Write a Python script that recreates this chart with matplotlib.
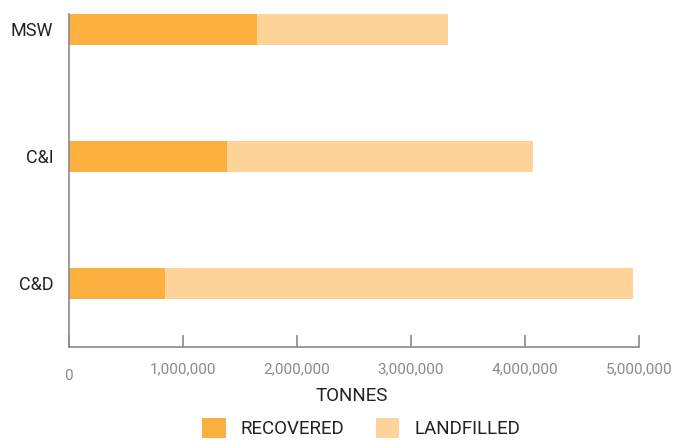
import matplotlib.pyplot as plt
import matplotlib.transforms as mtransforms
from matplotlib.patches import Patch
from matplotlib.ticker import FuncFormatter

plt.rcParams['font.family'] = ['Roboto', 'DejaVu Sans']

streams = ['MSW', 'C&I', 'C&D']
recovered = [1650000, 1390000, 850000]
landfilled = [1680000, 2680000, 4100000]
xticks = [0, 1000000, 2000000, 3000000, 4000000, 5000000]

col_rec = '#FBB040'
col_land = '#FED49A'
axis_grey = '#8a8a8a'

fig = plt.figure(figsize=(6.83, 4.40), dpi=100)
ax = fig.add_axes([0.1003, 0.2114, 0.8353, 0.7568])

pos = range(len(streams))
ax.barh(pos, recovered, height=0.244, color=col_rec, linewidth=0)
ax.barh(pos, landfilled, left=recovered, height=0.244, color=col_land, linewidth=0)

ax.set_xlim(0, 5000000)
ax.set_ylim(2.5, -0.122)
ax.set_yticks(list(pos))
ax.set_yticklabels(streams, fontsize=13, color='#222222')
ax.tick_params(axis='y', length=0, pad=11)

ax.set_xticks(xticks)
ax.xaxis.set_major_formatter(FuncFormatter(lambda v, p: f'{int(v):,}'))
ax.tick_params(axis='x', direction='in', length=9, width=1.2, color=axis_grey,
               labelcolor=axis_grey, labelsize=11, pad=11)
# the zero label sits a little lower than the rest
for lbl in ax.get_xticklabels():
    if lbl.get_text() == '0':
        lbl.set_transform(lbl.get_transform() +
                          mtransforms.ScaledTranslation(0, -5 / 72, fig.dpi_scale_trans))

for side in ['top', 'right']:
    ax.spines[side].set_visible(False)
for side in ['left', 'bottom']:
    ax.spines[side].set_color(axis_grey)
    ax.spines[side].set_linewidth(1.2)

fig.text(0.515, 1 - 396 / 440, 'TONNES', ha='center', va='center', fontsize=13.5, color='#222222')

handles = [Patch(facecolor=col_rec, edgecolor='none', label='RECOVERED'),
           Patch(facecolor=col_land, edgecolor='none', label='LANDFILLED')]
fig.legend(handles=handles, loc='center', bbox_to_anchor=(0.529, 1 - 428 / 440), ncol=2,
           frameon=False, fontsize=13.5, handlelength=1.23, handleheight=1.23,
           handletextpad=0.8, columnspacing=1.7, labelcolor='#222222',
           borderpad=0.2)

fig.savefig('out.png', dpi=100)
